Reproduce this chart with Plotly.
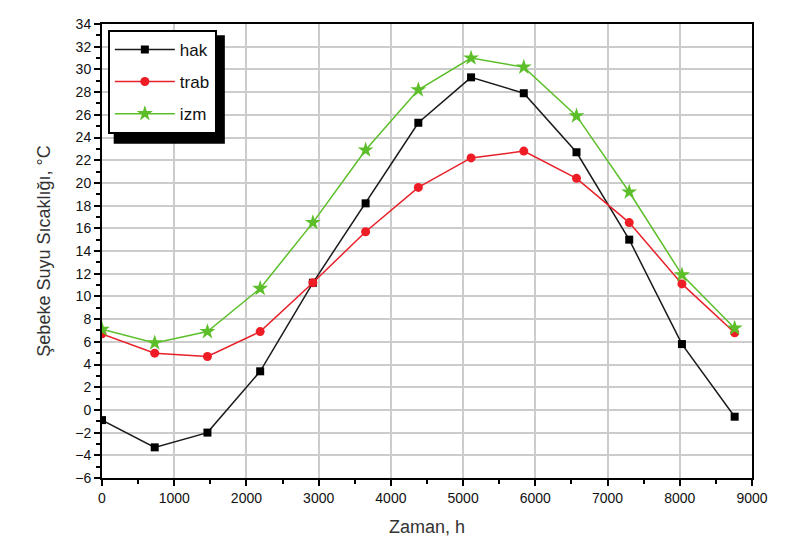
import plotly.graph_objects as go

# zaman (saat) ve şebeke suyu sıcaklıkları
zaman = [0, 730, 1460, 2190, 2920, 3650, 4380, 5110, 5840, 6570, 7300, 8030, 8760]
hak = [-0.9, -3.3, -2.0, 3.4, 11.2, 18.2, 25.3, 29.3, 27.9, 22.7, 15.0, 5.8, -0.6]
trab = [6.7, 5.0, 4.7, 6.9, 11.2, 15.7, 19.6, 22.2, 22.8, 20.4, 16.5, 11.1, 6.8]
izm = [7.1, 5.9, 6.9, 10.7, 16.5, 22.9, 28.2, 31.0, 30.2, 25.9, 19.2, 11.9, 7.2]

fnt = "Liberation Sans, Arial, sans-serif"

fig = go.Figure()
fig.add_trace(go.Scatter(x=zaman, y=hak, name="hak", mode="lines+markers", legendgroup="a",
                         line=dict(color="#1a1a1a", width=1.5),
                         marker=dict(symbol="square", size=8, color="#000000")))
fig.add_trace(go.Scatter(x=zaman, y=trab, name="trab", mode="lines+markers", legendgroup="b",
                         line=dict(color="#e8202a", width=1.5),
                         marker=dict(symbol="circle", size=9, color="#ee1c25")))
fig.add_trace(go.Scatter(x=zaman, y=izm, name="izm", mode="lines+markers", legendgroup="c",
                         line=dict(color="#5cbf2a", width=1.5),
                         marker=dict(symbol="star", size=12, color="#5cbf2a")))

# legend gölgesi
fig.add_shape(type="rect", xref="paper", yref="paper",
              x0=0.018, x1=0.189, y0=0.736, y1=0.975,
              fillcolor="black", line=dict(width=0), layer="above")

fig.update_layout(
    width=804, height=556,
    margin=dict(l=94, r=60, t=16, b=86),
    paper_bgcolor="white", plot_bgcolor="white",
    font=dict(family=fnt, size=14, color="#222"),
    showlegend=True,
    legend=dict(x=0.009, y=0.987, xanchor="left", yanchor="top",
                bgcolor="white", bordercolor="black", borderwidth=2,
                font=dict(size=17, color="#111"), itemwidth=60,
                tracegroupgap=7),
    xaxis=dict(range=[0, 9000], dtick=1000, showgrid=True, gridcolor="#cccccc",
               gridwidth=1.5, zeroline=False, showline=True, linecolor="black",
               linewidth=2, mirror=True, ticks="outside", ticklen=6,
               tickwidth=2, tickcolor="black", automargin=False,
               minor=dict(dtick=500, ticks="outside", ticklen=4, tickcolor="black", tickwidth=1.5),
               tickfont=dict(size=14, color="#111"),
               title=dict(text="Zaman, h", font=dict(size=18, color="#333"), standoff=16)),
    yaxis=dict(range=[-6, 34], dtick=2, showgrid=True, gridcolor="#cccccc",
               gridwidth=1.5, zeroline=False, showline=True, linecolor="black",
               linewidth=2, mirror=True, ticks="outside", ticklen=6,
               tickwidth=2, tickcolor="black", automargin=False,
               minor=dict(dtick=1, ticks="outside", ticklen=4, tickcolor="black", tickwidth=1.5),
               tickfont=dict(size=14, color="#111"),
               title=dict(text="Şebeke Suyu Sıcaklığı, °C", font=dict(size=18, color="#333"), standoff=20)),
)

fig.write_html("out.html")
